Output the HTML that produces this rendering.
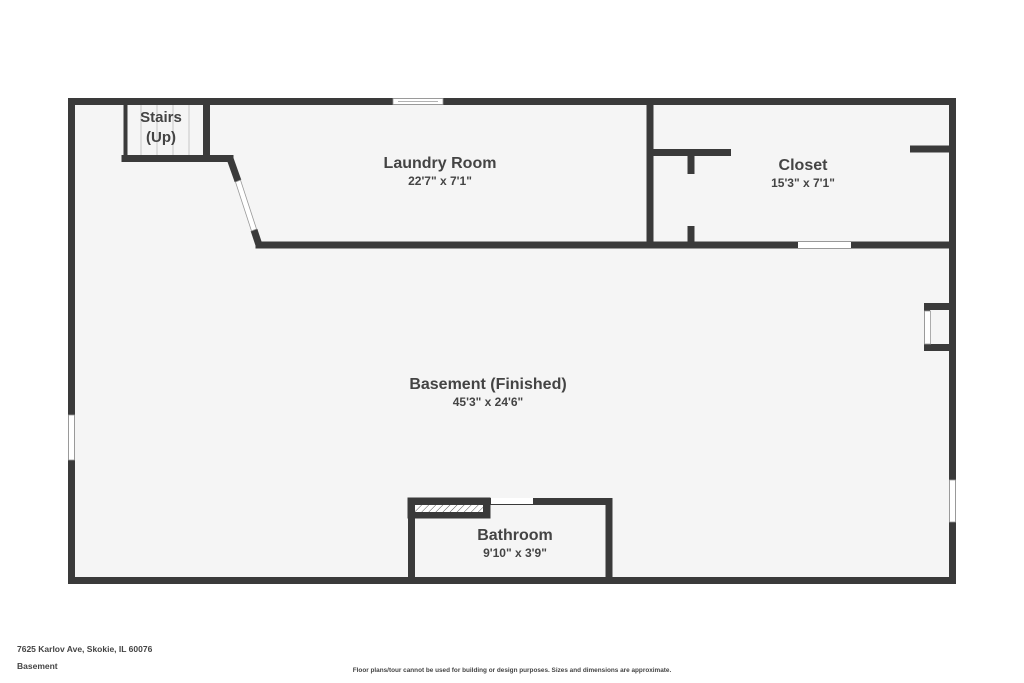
<!DOCTYPE html>
<html><head><meta charset="utf-8"><style>
html,body{margin:0;padding:0;background:#fff;}
svg{display:block;}
text{font-family:"Liberation Sans",sans-serif;font-weight:bold;fill:#444;}
</style></head><body>
<svg width="1024" height="683" viewBox="0 0 1024 683" xmlns="http://www.w3.org/2000/svg">
<defs>
<pattern id="h" width="5" height="5" patternUnits="userSpaceOnUse" patternTransform="rotate(45)">
<rect width="5" height="5" fill="#fff"/><line x1="0" y1="0" x2="0" y2="5" stroke="#555" stroke-width="1"/>
</pattern>
</defs>
<rect x="71" y="101" width="882" height="480" fill="#f5f5f5"/>
<g stroke="#bbb" stroke-width="0.8">
<line x1="141" y1="105" x2="141" y2="156"/><line x1="157" y1="105" x2="157" y2="156"/>
<line x1="173" y1="105" x2="173" y2="156"/><line x1="189" y1="105" x2="189" y2="156"/>
</g>
<g stroke="#3a3a3a" fill="none" stroke-linecap="square">
<rect x="71.5" y="101.5" width="881" height="479" stroke-width="7"/>
<line x1="125.5" y1="104" x2="125.5" y2="158" stroke-width="4"/>
<line x1="125" y1="158.5" x2="230" y2="158.5" stroke-width="7"/>
<line x1="206.5" y1="104" x2="206.5" y2="158" stroke-width="7"/>
<polyline points="230,158.5 238,181" stroke-width="7" stroke-linecap="butt"/>
<polyline points="254,230 259,245" stroke-width="7" stroke-linecap="butt"/>
<line x1="259" y1="245" x2="952" y2="245" stroke-width="7"/>
<line x1="650" y1="104" x2="650" y2="245" stroke-width="7"/>
<line x1="650" y1="152.5" x2="731" y2="152.5" stroke-width="7" stroke-linecap="butt"/>
<line x1="691" y1="152" x2="691" y2="174" stroke-width="7" stroke-linecap="butt"/>
<line x1="691" y1="226" x2="691" y2="245" stroke-width="7" stroke-linecap="butt"/>
<line x1="910" y1="149" x2="952" y2="149" stroke-width="7" stroke-linecap="butt"/>
<line x1="924" y1="306.5" x2="952" y2="306.5" stroke-width="7" stroke-linecap="butt"/>
<line x1="924" y1="347.5" x2="952" y2="347.5" stroke-width="7" stroke-linecap="butt"/>
<line x1="927" y1="303" x2="927" y2="351" stroke-width="6" stroke-linecap="butt"/>
<line x1="411.5" y1="498" x2="411.5" y2="580" stroke-width="7" stroke-linecap="butt"/>
<line x1="609" y1="498" x2="609" y2="580" stroke-width="7" stroke-linecap="butt"/>
<line x1="408" y1="501.5" x2="612.5" y2="501.5" stroke-width="7" stroke-linecap="butt"/>
<rect x="411" y="501" width="76" height="14" stroke-width="7" fill="#3a3a3a"/>
</g>
<rect x="415" y="505" width="68" height="7" fill="url(#h)"/>
<g fill="#fff" stroke="#999" stroke-width="0.8">
<rect x="393" y="98.5" width="50" height="6"/>
<line x1="398" y1="101.5" x2="438" y2="101.5"/>
<rect x="798" y="242" width="53" height="6" stroke="none"/>
<rect x="491" y="498" width="42" height="6" stroke="none"/>
<rect x="68.5" y="415" width="6" height="45"/>
<rect x="949.5" y="480" width="6" height="42"/>
<rect x="924.5" y="311" width="6" height="33"/>
</g>
<polygon points="235.5,182 240.5,180 256.5,229 251.5,231" fill="#fff" stroke="#999" stroke-width="0.8"/>
<g text-anchor="middle">
<text x="161" y="122" font-size="15">Stairs</text>
<text x="161" y="142" font-size="15">(Up)</text>
<text x="440" y="168" font-size="16">Laundry Room</text>
<text x="440" y="185" font-size="12">22'7" x 7'1"</text>
<text x="803" y="170" font-size="16">Closet</text>
<text x="803" y="187" font-size="12">15'3" x 7'1"</text>
<text x="488" y="389" font-size="16">Basement (Finished)</text>
<text x="488" y="406" font-size="12">45'3" x 24'6"</text>
<text x="515" y="540" font-size="16">Bathroom</text>
<text x="515" y="557" font-size="12">9'10" x 3'9"</text>
</g>
<text x="17" y="652" font-size="8.5">7625 Karlov Ave, Skokie, IL 60076</text>
<text x="17" y="669" font-size="8.5">Basement</text>
<text x="512" y="672" font-size="6.4" text-anchor="middle">Floor plans/tour cannot be used for building or design purposes. Sizes and dimensions are approximate.</text>
</svg>
</body></html>
